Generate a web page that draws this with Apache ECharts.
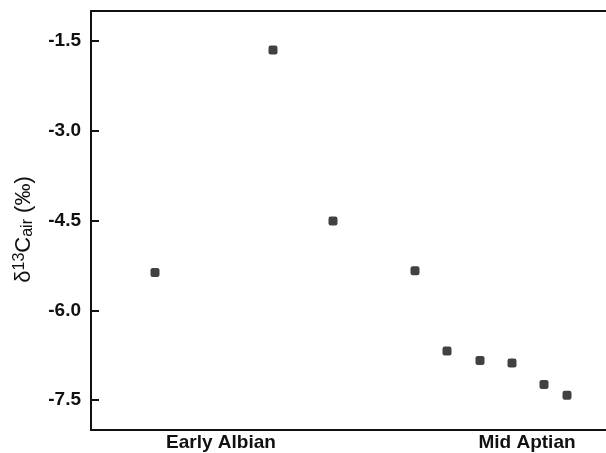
<!DOCTYPE html>
<html>
<head>
<meta charset="utf-8">
<script src="https://cdn.jsdelivr.net/npm/echarts@6/dist/echarts.min.js"></script>
<style>html,body{margin:0;padding:0;background:#fff}#c{width:606px;height:453px}</style>
</head>
<body>
<div id="c"></div>
<script>
// sample positions along the section (arbitrary units, left = younger)
const samplePos = [64, 182, 242, 324, 356, 389, 421, 453, 476];
const d13C = [-5.37, -1.65, -4.51, -5.34, -6.68, -6.84, -6.88, -7.24, -7.42];
const xLabelNames = ['Early Albian', 'Mid Aptian'];
const xLabelPos = [130, 436];
const yTicks = [-7.5, -6.0, -4.5, -3.0, -1.5];

const chart = echarts.init(document.getElementById('c'));
const font = '"Liberation Sans", Arial, sans-serif';
chart.setOption({
  animation: false,
  grid: { left: 91, top: 11, bottom: 23, right: 0, show: false },
  xAxis: [{
    type: 'value', min: 0, max: 515,
    axisLine: { show: true, lineStyle: { color: '#111', width: 2 } },
    axisTick: { show: false },
    splitLine: { show: false },
    axisLabel: {
      customValues: xLabelPos,
      formatter: v => { const i = xLabelPos.indexOf(v); return i >= 0 ? xLabelNames[i] : ''; },
      color: '#111', fontFamily: font, fontWeight: 'bold', fontSize: 19, margin: 3
    }
  }, {
    type: 'value', min: 0, max: 515, position: 'top',
    axisLine: { show: true, lineStyle: { color: '#111', width: 2 } },
    axisTick: { show: false }, axisLabel: { show: false }, splitLine: { show: false }
  }],
  yAxis: {
    type: 'value', min: -8, max: -1,
    axisLine: { show: true, lineStyle: { color: '#111', width: 2 } },
    axisTick: { show: true, inside: true, length: 8, customValues: yTicks, lineStyle: { color: '#111', width: 2 } },
    splitLine: { show: false },
    axisLabel: {
      customValues: yTicks,
      formatter: v => v.toFixed(1),
      color: '#111', fontFamily: font, fontWeight: 'bold', fontSize: 19, margin: 10
    },
    name: '{d|δ}{sup|13}{d|C}{sub|air}{d| (‰)}',
    nameLocation: 'middle', nameGap: 55, nameRotate: 90,
    nameTextStyle: {
      padding: [0, 18, 0, 0],
      rich: {
        d: { fontFamily: font, fontSize: 22, color: '#111' },
        sup: { fontFamily: font, fontSize: 16, color: '#111', verticalAlign: 'top', padding: [0,0,8,0] },
        sub: { fontFamily: font, fontSize: 16, color: '#111', verticalAlign: 'bottom', padding: [8,0,0,0] }
      }
    }
  },
  series: [{
    type: 'scatter',
    data: samplePos.map((x, i) => [x, d13C[i]]),
    symbol: 'roundRect', symbolSize: 9,
    itemStyle: { color: '#111' }
  }]
});
</script>
</body>
</html>
